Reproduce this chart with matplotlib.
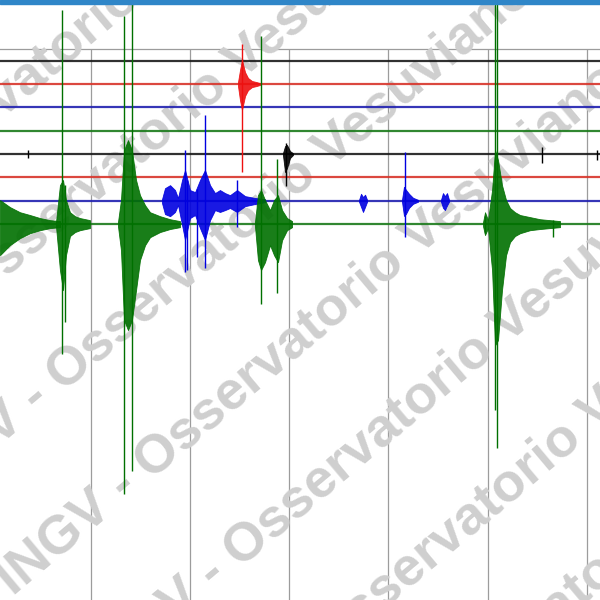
import numpy as np
import matplotlib
matplotlib.use("Agg")
import matplotlib.pyplot as plt
from matplotlib.patches import Rectangle

# ---------------- data (time in minutes, amplitude in trace-spacing units) ----------------
trace_colors = ["#1a1a1a", "#d8342a", "#2020b0", "#1a7a1a",
                "#1a1a1a", "#d8342a", "#2020b0", "#1a7a1a"]
grid_minutes = [1, 2, 3, 4, 5, 6]

# green trace (index 7)
green_spike_t = [0.711, 0.741, 1.336, 1.416, 2.717, 2.878, 5.076, 5.096, 5.660, 4.975]
green_spike_up = [9.17, 1.67, 8.92, 10.5, 8.06, 2.79, 10.5, 10.5, 0.17, 0.34]
green_spike_dn = [5.57, 4.20, 11.57, 10.59, 3.43, 2.96, 7.97, 9.60, 0.56, 0.39]
green_env_t = [
    [0.086, 0.186, 0.287, 0.388, 0.489, 0.590, 0.691],
    [0.650, 0.690, 0.721, 0.751, 0.791, 0.842, 0.892, 0.993],
    [1.275, 1.305, 1.336, 1.376, 1.416, 1.457, 1.497, 1.548, 1.598, 1.699, 1.800, 1.900],
    [2.656, 2.686, 2.717, 2.757, 2.808, 2.848, 2.888, 2.929, 2.979, 3.030],
    [4.955, 4.975, 5.005, 5.046, 5.076, 5.106, 5.146, 5.187, 5.227, 5.277, 5.328, 5.429, 5.530, 5.630, 5.731],
]
green_env_up = [
    [1.03, 0.73, 0.51, 0.39, 0.26, 0.17, 0.13],
    [0.09, 1.67, 1.89, 1.03, 0.51, 0.34, 0.26, 0.17],
    [0.09, 1.03, 3.17, 3.60, 3.17, 1.89, 1.24, 0.81, 0.51, 0.34, 0.21, 0.13],
    [0.09, 1.24, 1.46, 1.03, 0.60, 1.03, 1.24, 0.60, 0.26, 0.13],
    [0.09, 0.51, 0.17, 1.46, 3.17, 2.74, 1.67, 1.03, 0.69, 0.51, 0.39, 0.30, 0.21, 0.17, 0.13],
]
green_env_dn = [
    [1.33, 0.90, 0.60, 0.39, 0.26, 0.17, 0.13],
    [0.09, 1.97, 2.83, 1.33, 0.51, 0.34, 0.26, 0.17],
    [0.09, 1.11, 4.11, 4.54, 4.11, 2.83, 1.54, 0.90, 0.56, 0.34, 0.21, 0.13],
    [0.09, 1.54, 1.97, 1.63, 0.90, 1.33, 1.63, 0.69, 0.26, 0.13],
    [0.09, 0.47, 0.17, 1.97, 5.19, 4.97, 2.83, 1.33, 0.77, 0.51, 0.39, 0.26, 0.21, 0.17, 0.13],
]

# red trace (index 1)
red_spike_t = [2.525]
red_spike_up = [1.71]
red_spike_dn = [3.77]
red_env_t = [[2.485, 2.505, 2.525, 2.556, 2.586, 2.626, 2.667, 2.707]]
red_env_up = [[0.09, 0.60, 1.03, 0.51, 0.26, 0.13, 0.09, 0.04]]
red_env_dn = [[0.09, 0.69, 1.11, 0.51, 0.26, 0.13, 0.09, 0.04]]

# black trace (index 4)
black_spike_t = [2.969, 0.368, 5.550, 6.104]
black_spike_up = [0.47, 0.17, 0.30, 0.17]
black_spike_dn = [1.37, 0.17, 0.39, 0.26]
black_env_t = [[2.938, 2.959, 2.979, 3.009, 3.039]]
black_env_up = [[0.04, 0.34, 0.39, 0.13, 0.04]]
black_env_dn = [[0.04, 0.77, 0.60, 0.17, 0.04]]

# blue trace (index 6)
blue_spike_t = [1.950, 1.975, 2.072, 2.152, 2.475, 4.168]
blue_spike_up = [2.17, 0.90, 0.50, 3.67, 0.89, 2.09]
blue_spike_dn = [3.06, 2.98, 2.41, 2.88, 1.12, 1.56]
blue_env_t = [
    [1.719, 1.749, 1.800, 1.850, 1.880, 1.921, 1.951, 2.001, 2.052, 2.102,
     2.152, 2.203, 2.253, 2.303, 2.354, 2.404, 2.475, 2.556, 2.656, 2.757],
    [3.705, 3.725, 3.745, 3.766, 3.786],
    [4.138, 4.158, 4.178, 4.209, 4.249, 4.300],
    [4.531, 4.551, 4.571, 4.592, 4.612],
]
blue_env_up = [
    [0.07, 0.54, 0.67, 0.46, 0.12, 0.89, 1.32, 0.46, 0.37, 0.89,
     1.32, 0.67, 0.33, 0.46, 0.33, 0.24, 0.46, 0.20, 0.12, 0.07],
    [0.04, 0.30, 0.16, 0.26, 0.04],
    [0.04, 0.60, 0.47, 0.30, 0.13, 0.04],
    [0.04, 0.33, 0.20, 0.33, 0.04],
]
blue_env_dn = [
    [0.10, 0.57, 0.66, 0.48, 0.18, 1.04, 1.68, 0.74, 0.61, 1.17,
     1.68, 0.83, 0.40, 0.48, 0.40, 0.31, 0.48, 0.23, 0.14, 0.06],
    [0.04, 0.26, 0.48, 0.26, 0.04],
    [0.04, 0.65, 0.56, 0.30, 0.13, 0.04],
    [0.04, 0.30, 0.40, 0.20, 0.04],
]

watermark_text = "INGV - Osservatorio Vesuviano"

# ---------------- drawing ----------------
events = {
    1: (red_spike_t, red_spike_up, red_spike_dn, red_env_t, red_env_up, red_env_dn, "#ee1010"),
    4: (black_spike_t, black_spike_up, black_spike_dn, black_env_t, black_env_up, black_env_dn, "#000000"),
    6: (blue_spike_t, blue_spike_up, blue_spike_dn, blue_env_t, blue_env_up, blue_env_dn, "#0000e0"),
    7: (green_spike_t, green_spike_up, green_spike_dn, green_env_t, green_env_up, green_env_dn, "#007000"),
}

fig = plt.figure(figsize=(6, 6), dpi=100)
ax = fig.add_axes([0, 0, 1, 1])
XMIN, XMAX = 0.0857, 6.134
YMIN, YMAX = -23.1, 2.6
ax.set_xlim(XMIN, XMAX)
ax.set_ylim(YMIN, YMAX)
ax.axis("off")

# grid
ax.vlines(grid_minutes, YMIN, 0.5, color="#9c9c9c", lw=0.9, zorder=1)
ax.axhline(0.5, color="#9c9c9c", lw=0.9, zorder=1)

# watermark (layout only)
W, H = 600.0, 600.0
ANG = 40
ang = np.deg2rad(ANG)
u = np.array([np.cos(ang), -np.sin(ang)])
n = np.array([np.sin(ang), np.cos(ang)])
fs = 39
em = fs * 100 / 72.0
period = (14.78 + 3 * 0.278) * em
rep = (watermark_text + "   ") * 4
for L in range(0, 9):
    P = np.array([118 + 88.5 * (L - 4), 488 + 88.0 * (L - 4)]) + 14 * u
    B = P - 2.89 * em * u + 0.29 * em * n - 2 * period * u
    ax.text(B[0] / W, 1 - B[1] / H, rep, transform=fig.transFigure,
            rotation=ANG, rotation_mode="anchor", ha="left", va="baseline",
            fontsize=fs, fontweight="bold", family="Liberation Sans",
            color="#cfcfcf", zorder=1.5, clip_on=False)

# traces
for k, col in enumerate(trace_colors):
    ax.plot([XMIN, XMAX], [-k, -k], color=col, lw=1.6, alpha=0.9, zorder=3)
    if k in events:
        st, su, sd, et, eu, ed, ecol = events[k]
        for tt, uu, dd in zip(et, eu, ed):
            tt = np.asarray(tt); uu = np.asarray(uu); dd = np.asarray(dd)
            ax.fill_between(tt, -k + uu, -k - dd, color=ecol, lw=0.6, alpha=0.9, zorder=4)
        ax.vlines(st, -k - np.asarray(sd), -k + np.asarray(su), color=ecol, lw=1.0, zorder=4)

# top blue bar
fig.patches.append(Rectangle((0, 1 - 4 / H), 1, 4 / H, transform=fig.transFigure,
                             color="#2f86c8", zorder=10))

fig.savefig("out.png", dpi=100)
